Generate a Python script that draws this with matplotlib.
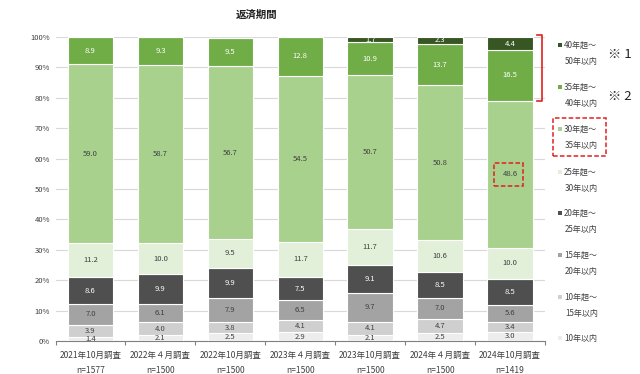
import matplotlib
matplotlib.use("Agg")
import matplotlib.pyplot as plt
from matplotlib.patches import Rectangle
from matplotlib.lines import Line2D
import numpy as np

plt.rcParams['font.family'] = ['Noto Sans CJK JP', 'DejaVu Sans']

categories = ["2021年10月調査", "2022年４月調査", "2022年10月調査", "2023年４月調査",
              "2023年10月調査", "2024年４月調査", "2024年10月調査"]
sample_sizes = ["n=1577", "n=1500", "n=1500", "n=1500", "n=1500", "n=1500", "n=1419"]

series_names = ["10年以内", "10年超〜\n15年以内", "15年超〜\n20年以内", "20年超〜\n25年以内",
                "25年超〜\n30年以内", "30年超〜\n35年以内", "35年超〜\n40年以内", "40年超〜\n50年以内"]
le10 = [1.4, 2.1, 2.5, 2.9, 2.1, 2.5, 3.0]
y10_15 = [3.9, 4.0, 3.8, 4.1, 4.1, 4.7, 3.4]
y15_20 = [7.0, 6.1, 7.9, 6.5, 9.7, 7.0, 5.6]
y20_25 = [8.6, 9.9, 9.9, 7.5, 9.1, 8.5, 8.5]
y25_30 = [11.2, 10.0, 9.5, 11.7, 11.7, 10.6, 10.0]
y30_35 = [59.0, 58.7, 56.7, 54.5, 50.7, 50.8, 48.6]
y35_40 = [8.9, 9.3, 9.5, 12.8, 10.9, 13.7, 16.5]
y40_50 = [0, 0, 0, 0, 1.7, 2.3, 4.4]

series = [le10, y10_15, y15_20, y20_25, y25_30, y30_35, y35_40, y40_50]
colors = ["#EDEDED", "#CFCFCF", "#A3A3A3", "#4F4F4F", "#E2F0D9", "#A9D18E", "#70AD47", "#375623"]
label_colors = ["#404040", "#404040", "#404040", "#FFFFFF", "#404040", "#404040", "#FFFFFF", "#FFFFFF"]

W, H = 640, 374
fig = plt.figure(figsize=(6.4, 3.74), dpi=100)
fig.patch.set_facecolor("white")

def fx(px):
    return px / W

def fy(py):
    return 1 - py / H

ax = fig.add_axes([fx(55.5), fy(341), fx(545) - fx(55.5), fy(37) - fy(341)])

x = np.arange(len(categories))
bottom = np.zeros(len(categories))
for vals, c, lc in zip(series, colors, label_colors):
    v = np.array(vals, dtype=float)
    ax.bar(x, v, bottom=bottom, width=0.65, color=c, edgecolor="white", linewidth=0.8, zorder=3)
    for i in range(len(x)):
        if v[i] > 0:
            ax.text(x[i], bottom[i] + v[i] / 2, f"{v[i]:.1f}", ha="center", va="center",
                    fontsize=5.5, color=lc, zorder=5, clip_on=True)
    bottom += v

ax.set_xlim(-0.5, len(categories) - 0.5)
ax.set_ylim(0, 100)
ax.set_yticks(np.arange(0, 101, 10))
ax.set_yticklabels([f"{t}%" for t in range(0, 101, 10)], fontsize=5.5, color="#404040")
ax.yaxis.grid(True, color="#D9D9D9", linewidth=0.8, zorder=0)
ax.set_axisbelow(True)
for s in ["top", "right", "left"]:
    ax.spines[s].set_visible(False)
ax.spines["bottom"].set_color("#808080")
ax.spines["bottom"].set_linewidth(0.8)
ax.tick_params(axis="y", length=0, pad=4)
ax.set_xticks(x)
ax.set_xticklabels([f"{c}\n{n}" for c, n in zip(categories, sample_sizes)],
                   fontsize=6.1, color="#404040", linespacing=1.9)
ax.tick_params(axis="x", length=0, pad=7)
ax.set_xticks(np.arange(-0.5, len(categories), 1), minor=True)
ax.tick_params(axis="x", which="minor", length=3, color="#808080", width=0.8)

# Title
fig.text(fx(257), fy(15), "返済期間", ha="center", va="center", fontsize=7.5, fontweight="bold", color="#222222")

# Legend (manual, matching reference layout)
legend_y = [45, 87, 129, 172, 213, 255, 297, 338]
legend_order = list(range(len(series_names)))[::-1]
for yy, idx in zip(legend_y, legend_order):
    lines = series_names[idx].split("\n")
    fig.add_artist(Rectangle((fx(558), fy(yy + 2)), fx(4) - fx(0), fy(0) - fy(4),
                             transform=fig.transFigure, facecolor=colors[idx],
                             edgecolor="none"))
    fig.text(fx(564), fy(yy), lines[0], ha="left", va="center", fontsize=5.8, color="#404040")
    if len(lines) > 1:
        fig.text(fx(565), fy(yy + 16.5), lines[1], ha="left", va="center", fontsize=5.8, color="#404040")

# Notes
fig.text(fx(608), fy(55), "※ 1", ha="left", va="center", fontsize=9.5, color="#222222")
fig.text(fx(608), fy(97), "※ 2", ha="left", va="center", fontsize=9.5, color="#222222")

# Red bracket
red = "#E02020"
fig.add_artist(Line2D([fx(537), fx(542), fx(542), fx(537)], [fy(35), fy(35), fy(101), fy(101)],
                      transform=fig.transFigure, color=red, linewidth=1.2))

# Red dashed box around legend entry
fig.add_artist(Rectangle((fx(553), fy(156)), fx(606) - fx(553), fy(118) - fy(156),
                         transform=fig.transFigure, facecolor="none", edgecolor=red,
                         linewidth=1.1, linestyle=(0, (3, 1.5))))

# Red dashed box around highlighted value (last bar, 30-35 segment)
last = len(categories) - 1
seg_bottom = sum(s[last] for s in series[:5])
seg_center = seg_bottom + y30_35[last] / 2
ax.add_patch(Rectangle((last - 0.23, seg_center - 3.7), 0.42, 7.4, facecolor="none",
                       edgecolor=red, linewidth=1.1, linestyle=(0, (3, 1.5)), zorder=6))

fig.savefig("out.png", dpi=100, facecolor="white")
